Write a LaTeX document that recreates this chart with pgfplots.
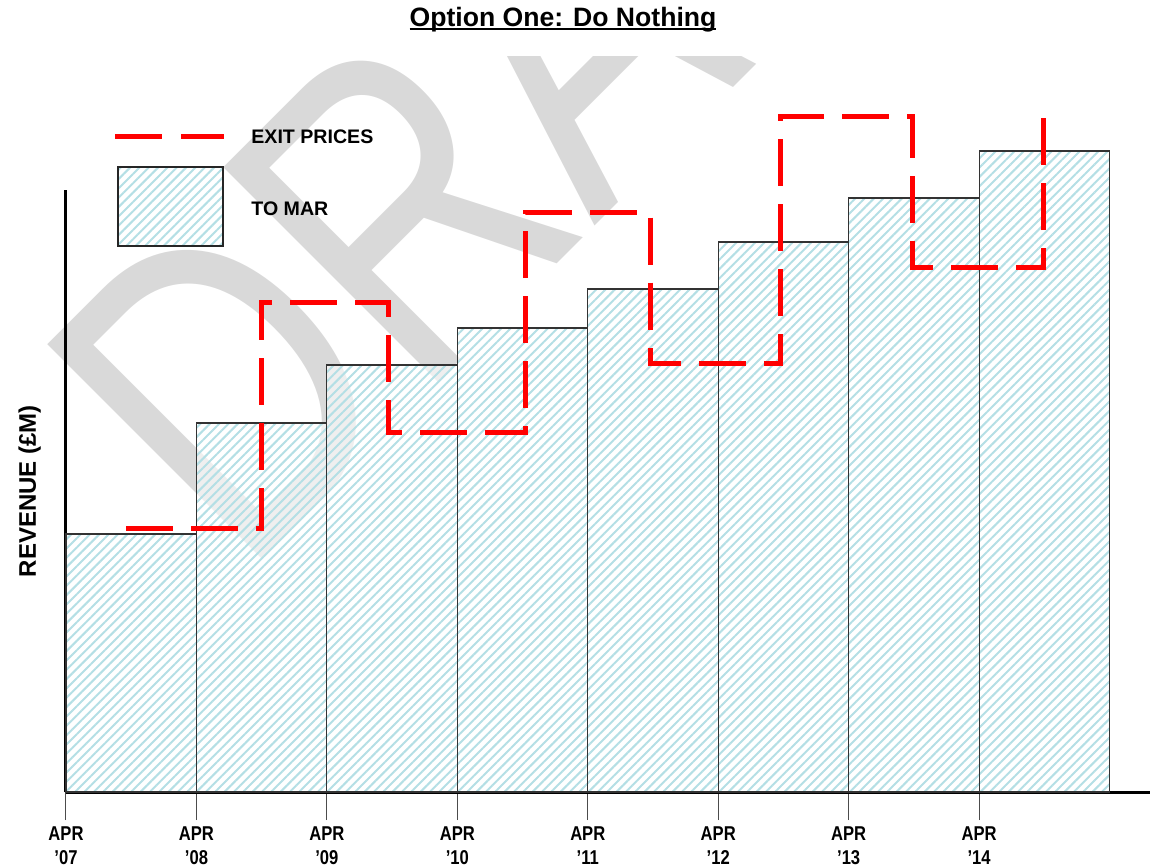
\documentclass[border=0pt]{standalone}
\usepackage{graphicx}
\usepackage{pgfplots}
\pgfplotsset{compat=1.18}
\usepackage{fontspec}
\setmainfont{Liberation Sans}
\newfontfamily\condfont[FakeStretch=0.83]{Liberation Sans}
\usetikzlibrary{patterns.meta}
\definecolor{hatch}{RGB}{180,223,229}
\definecolor{wm}{RGB}{217,217,217}
\definecolor{exitred}{RGB}{255,0,0}
\newcommand\myul[1]{\setbox0\hbox{#1}\rlap{\rule[-1.6pt]{\wd0}{1.3pt}}\box0}
\tikzset{hatchfill/.style={pattern={Lines[angle=45,distance=3.3pt,line width=1pt]}, pattern color=hatch}}
\begin{document}
\begin{tikzpicture}
\useasboundingbox (-33pt,-37.5pt) rectangle (542pt,396pt);
% watermark
\begin{scope}
\clip (-33pt,-37.5pt) rectangle (542pt,367.5pt);
\node[rotate=45, anchor=base west, inner sep=0pt, text=wm, font=\fontsize{172.5}{172.5}\selectfont] at (88.2pt,106.3pt) {\scalebox{1}[1.28]{DRAFT}};
\end{scope}
\begin{axis}[
  at={(0pt,0pt)}, anchor=south west, scale only axis,
  width=542pt, height=301pt,
  xmin=0, xmax=8.31, ymin=0, ymax=602, clip=false,
  axis lines=left,
  axis line style={-, line width=1.5pt, black},
  ytick=\empty,
  xtick={0,1,2,3,4,5,6,7},
  xticklabels={{APR\\’07},{APR\\’08},{APR\\’09},{APR\\’10},{APR\\’11},{APR\\’12},{APR\\’13},{APR\\’14}},
  xticklabel style={font=\condfont\bfseries\fontsize{10}{12}\selectfont, align=center},
  tick align=outside,
  major tick length=14pt,
  x tick style={black!70, line width=0.5pt},
  ylabel={REVENUE (£M)},
  ylabel style={font=\bfseries\fontsize{12}{14}\selectfont, at={(axis description cs:-0.0277,0.5)}, anchor=base},
]
\addplot[ybar interval, draw=black!80, line width=0.6pt, hatchfill,
  preaction={fill=white, fill opacity=0.6}]
  coordinates {(0,258) (1,369) (2,427) (3,464) (4,503) (5,550) (6,594) (7,641) (8,641)};
\addplot[exitred, line width=2.5pt, dash pattern=on 23.5pt off 9pt, line cap=butt, line join=miter]
  coordinates {(0.46,263) (1.5,263) (1.5,489) (2.47,489) (2.47,359) (3.52,359) (3.52,579) (4.48,579) (4.48,428) (5.48,428) (5.48,675) (6.49,675) (6.49,524) (7.49,524) (7.49,677)};
\end{axis}
% title
\node[anchor=base, inner sep=0pt, font=\bfseries\fontsize{13.3}{16}\selectfont] at (248.5pt,382.5pt) {\myul{Option One: Do Nothing}};
% legend
\draw[exitred, line width=2.5pt, dash pattern=on 23.5pt off 9.5pt] (24.5pt,327.5pt) -- (79pt,327.5pt);
\fill[white] (26pt,273pt) rectangle (78.5pt,312.5pt);
\fill[hatchfill] (26pt,273pt) rectangle (78.5pt,312.5pt);
\draw[black!85, line width=0.6pt] (26pt,273pt) rectangle (78.5pt,312.5pt);
\node[anchor=west, inner sep=0pt, font=\bfseries\fontsize{9.8}{12}\selectfont] at (92.5pt,327.5pt) {EXIT PRICES};
\node[anchor=west, inner sep=0pt, font=\bfseries\fontsize{9.8}{12}\selectfont] at (92.5pt,291.5pt) {TO MAR};
\end{tikzpicture}
\end{document}
